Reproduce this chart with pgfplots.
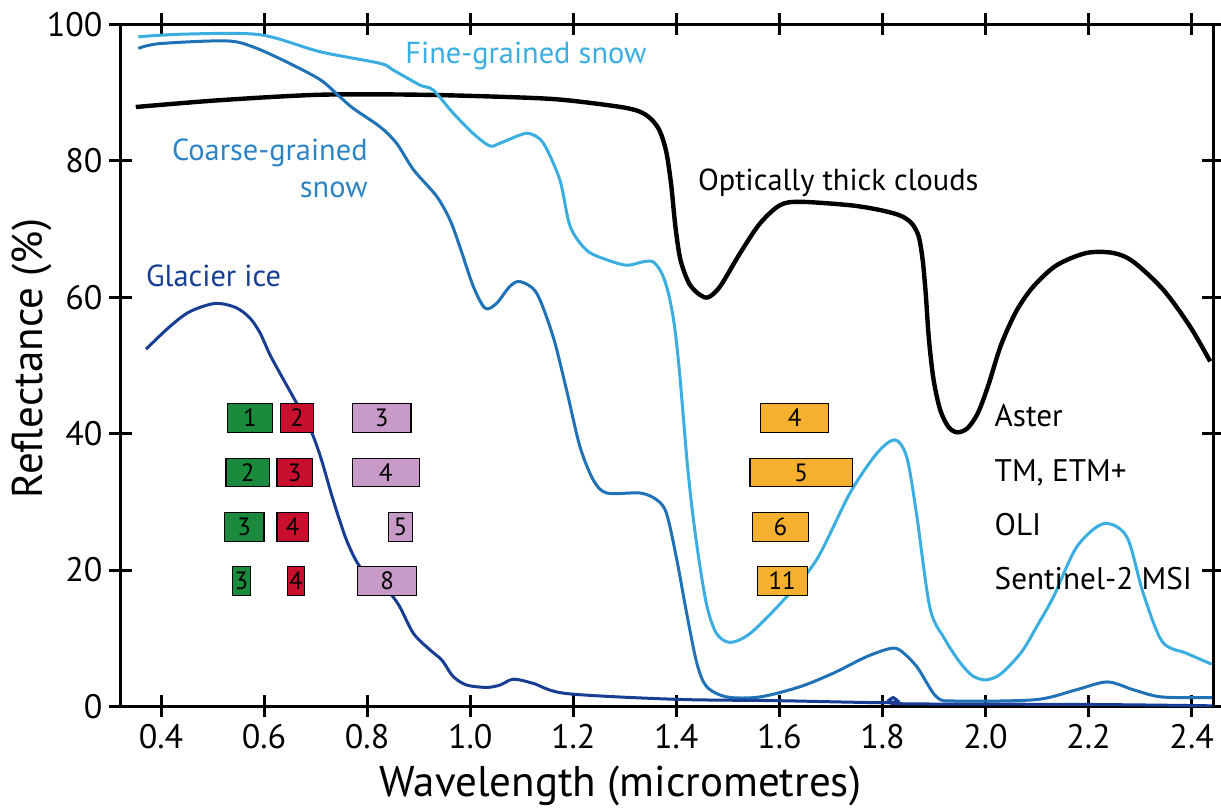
\documentclass[border=0pt]{standalone}
\usepackage{pgfplots}
\pgfplotsset{compat=1.18}
\usepackage{fontspec}
\setmainfont{PT Sans}

\definecolor{finesnow}{HTML}{3AAEE0}
\definecolor{coarsesnow}{HTML}{1F72B5}
\definecolor{coarselabel}{HTML}{2C84C4}
\definecolor{glacier}{HTML}{183E94}
\definecolor{bgreen}{HTML}{1B8A3C}
\definecolor{bred}{HTML}{C8102E}
\definecolor{bpink}{HTML}{C89AC8}
\definecolor{borange}{HTML}{F5B030}

\tikzset{
  curvelabel/.style={inner sep=0pt, font=\fontsize{15.2}{17}\selectfont},
  sensorlabel/.style={inner sep=0pt, anchor=base west, font=\fontsize{15.6}{17}\selectfont},
}

% sensor band box: x1 x2 y1 y2 xc yc colour label
\newcommand{\band}[8]{%
  \addplot[draw=black, line width=0.6pt, fill=#7] coordinates {(#1,#3) (#2,#3) (#2,#4) (#1,#4)} -- cycle;
  \node[font=\fontsize{12.5}{12.5}\selectfont] at (axis cs:#5,#6) {#8};
}

\begin{document}
\begin{tikzpicture}
\begin{axis}[
    scale only axis,
    width=546.4pt, height=341pt,
    xmin=0.3214, xmax=2.442, ymin=0, ymax=100,
    xtick={0.4,0.6,0.8,1.0,1.2,1.4,1.6,1.8,2.0,2.2,2.4},
    ytick={0,20,40,60,80,100},
    tick align=center,
    major tick length=11pt,
    axis line style={line width=1.5pt},
    every tick/.style={line width=1.5pt, black},
    /pgf/number format/assume math mode=true,
    x tick label style={/pgf/number format/fixed, /pgf/number format/fixed zerofill, /pgf/number format/precision=1},
    tick label style={font=\fontsize{17}{19}\selectfont},
    label style={font=\fontsize{21.5}{24}\selectfont},
    xlabel={Wavelength (micrometres)},
    ylabel={Reflectance (\%)},
    xlabel style={at={(axis description cs:0.4575,-0.1323)}, anchor=base},
    ylabel style={at={(axis description cs:-0.081,0.51)}, anchor=center},
    no markers,
]

% optically thick clouds
\addplot[black, line width=2.2pt, smooth, tension=0.5] coordinates {
(0.351,87.9) (0.514,88.9) (0.709,89.7) (0.903,89.7) (1.097,89.3) (1.187,88.9)
(1.300,87.8) (1.340,86.8) (1.365,84.8) (1.380,81.5) (1.390,76.5) (1.398,70.5)
(1.408,65.5) (1.425,62.0) (1.445,60.4) (1.462,60.0) (1.485,61.6) (1.524,66.5)
(1.562,70.8) (1.601,73.5) (1.640,74.0) (1.737,73.5) (1.795,72.8) (1.834,72.0)
(1.856,70.9) (1.870,69.0) (1.878,65.5) (1.884,60.5) (1.890,54.0) (1.899,48.0)
(1.912,43.5) (1.928,41.0) (1.945,40.2) (1.965,40.8) (1.985,43.0) (2.005,47.0)
(2.030,53.0) (2.060,58.0) (2.093,61.6) (2.138,64.7) (2.196,66.5) (2.248,66.5)
(2.287,65.2) (2.345,61.1) (2.397,55.7) (2.436,50.6)
};

% fine-grained snow
\addplot[finesnow, line width=1.5pt, smooth, tension=0.5] coordinates {
(0.356,98.2) (0.450,98.6) (0.592,98.5) (0.709,96.0) (0.825,94.3) (0.851,93.3)
(0.903,91.1) (0.928,90.4) (0.967,87.0) (1.006,84.0) (1.038,82.2) (1.058,82.6)
(1.097,83.8) (1.116,84.0) (1.142,82.6) (1.174,77.2) (1.194,70.4) (1.226,66.9)
(1.265,65.5) (1.304,64.7) (1.335,65.2) (1.355,65.2) (1.372,63.5) (1.385,60.5)
(1.396,56.0) (1.405,50.0) (1.413,43.0) (1.422,35.0) (1.433,27.5) (1.446,20.5)
(1.460,14.5) (1.478,10.7) (1.504,9.4) (1.543,10.7) (1.608,15.6) (1.672,21.5)
(1.737,31.3) (1.789,37.1) (1.824,39.1) (1.847,36.6) (1.866,28.3) (1.892,14.5)
(1.920,10.0) (1.950,6.5) (1.975,4.5) (2.001,3.9) (2.030,4.8) (2.070,8.0)
(2.100,11.8) (2.132,16.1) (2.177,23.4) (2.229,26.8) (2.274,24.9) (2.306,16.6)
(2.343,9.5) (2.390,7.8) (2.439,6.2)
};

% coarse-grained snow
\addplot[coarsesnow, line width=1.5pt, smooth, tension=0.5] coordinates {
(0.356,96.5) (0.398,97.2) (0.527,97.6) (0.579,96.7) (0.644,94.5) (0.709,91.9)
(0.747,89.4) (0.773,87.7) (0.825,85.0) (0.857,82.6) (0.890,78.7) (0.935,74.8)
(0.961,71.3) (0.980,67.4) (1.006,61.6) (1.029,58.4) (1.051,59.1) (1.077,61.6)
(1.097,62.3) (1.129,60.6) (1.161,54.2) (1.187,46.4) (1.213,38.1) (1.239,33.2)
(1.265,31.3) (1.330,31.3) (1.362,30.3) (1.381,28.3) (1.401,21.5) (1.420,13.7)
(1.440,6.3) (1.459,2.9) (1.498,1.4) (1.562,1.4) (1.640,2.9) (1.705,4.9)
(1.769,7.3) (1.815,8.5) (1.835,8.2) (1.867,5.8) (1.905,1.4) (1.943,0.8)
(2.097,1.0) (2.174,2.4) (2.236,3.6) (2.289,2.4) (2.342,1.4) (2.439,1.3)
};

% glacier ice
\addplot[glacier, line width=1.5pt, smooth, tension=0.5] coordinates {
(0.371,52.4) (0.417,55.7) (0.456,57.9) (0.505,59.1) (0.545,58.5) (0.572,57.0)
(0.592,54.8) (0.612,51.5) (0.635,48.3) (0.660,44.9) (0.690,40.6) (0.710,36.5)
(0.734,30.3) (0.760,24.4) (0.785,20.6) (0.815,18.6) (0.840,17.0) (0.862,14.8)
(0.890,10.7) (0.922,8.3) (0.945,6.8) (0.967,4.4) (0.993,3.15) (1.032,2.8)
(1.058,3.15) (1.084,4.0) (1.122,3.4) (1.187,1.9) (1.400,1.05) (1.600,0.85)
(1.800,0.56) (1.812,0.9) (1.821,1.3) (1.830,0.8) (1.840,0.4) (2.200,0.3)
(2.440,0.1)
};

% band boxes: Aster, TM/ETM+, OLI, Sentinel-2 MSI
\band{0.529}{0.616}{40.2}{44.45}{0.5725}{42.3}{bgreen}{1}
\band{0.632}{0.696}{40.2}{44.45}{0.664}{42.3}{bred}{2}
\band{0.771}{0.885}{40.2}{44.45}{0.828}{42.3}{bpink}{3}
\band{1.564}{1.695}{40.2}{44.45}{1.6295}{42.3}{borange}{4}

\band{0.526}{0.610}{32.25}{36.4}{0.568}{34.3}{bgreen}{2}
\band{0.625}{0.694}{32.25}{36.4}{0.6595}{34.3}{bred}{3}
\band{0.771}{0.901}{32.25}{36.4}{0.836}{34.3}{bpink}{4}
\band{1.543}{1.742}{32.25}{36.4}{1.6425}{34.3}{borange}{5}

\band{0.523}{0.600}{24.2}{28.5}{0.5615}{26.35}{bgreen}{3}
\band{0.625}{0.686}{24.2}{28.5}{0.6555}{26.35}{bred}{4}
\band{0.841}{0.888}{24.2}{28.5}{0.8645}{26.35}{bpink}{5}
\band{1.548}{1.656}{24.2}{28.5}{1.602}{26.35}{borange}{6}

\band{0.538}{0.574}{16.25}{20.5}{0.556}{18.4}{bgreen}{3}
\band{0.645}{0.679}{16.25}{20.5}{0.662}{18.4}{bred}{4}
\band{0.782}{0.896}{16.25}{20.5}{0.839}{18.4}{bpink}{8}
\band{1.557}{1.654}{16.25}{20.5}{1.6055}{18.4}{borange}{11}

% curve labels
\node[curvelabel, anchor=base west, text=finesnow] at (axis cs:0.8735,94.35) {Fine-grained snow};
\node[curvelabel, anchor=base east, text=coarselabel] at (axis cs:0.8017,80.1) {Coarse-grained};
\node[curvelabel, anchor=base east, text=coarselabel] at (axis cs:0.8017,74.7) {snow};
\node[curvelabel, anchor=base west, text=glacier] at (axis cs:0.3703,61.55) {Glacier ice};
\node[curvelabel, anchor=base west] at (axis cs:1.4415,75.7) {Optically thick clouds};

% sensor names
\node[sensorlabel] at (axis cs:2.017,41.0) {Aster};
\node[sensorlabel] at (axis cs:2.017,33.0) {TM, ETM+};
\node[sensorlabel] at (axis cs:2.017,25.0) {OLI};
\node[sensorlabel] at (axis cs:2.017,17.1) {Sentinel-2 MSI};

\end{axis}
\pgfresetboundingbox
\path[use as bounding box] (current axis.south west) ++(-60.25pt,-50.75pt) rectangle ++(610.5pt,404pt);
\end{tikzpicture}
\end{document}
